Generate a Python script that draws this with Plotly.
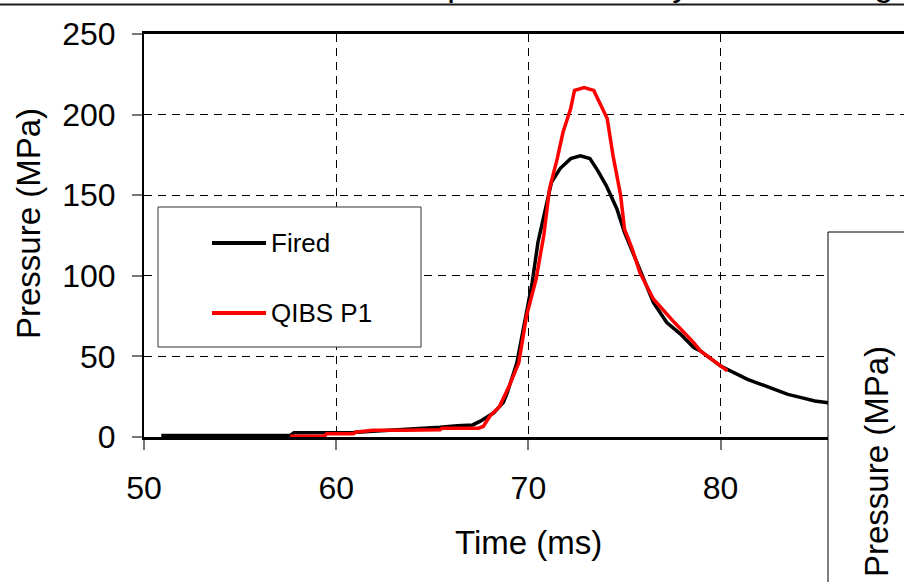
import plotly.graph_objects as go

# ---- data ----
series_names = ["Fired", "QIBS P1"]
series_colors = ["#000000", "#ff0000"]

fired_t = [50.9, 52, 54, 56, 57.6, 57.8, 59, 60.9, 61.9, 63, 64.5, 65.4, 66.3, 67.1, 67.5,
           67.8, 68.2, 68.35, 68.7, 68.9, 69.4, 69.8, 70.2, 70.5, 70.9, 71.2, 71.65, 72.2,
           72.7, 73.2, 73.6, 74.05, 74.6, 75.0, 75.5, 76.0, 76.5, 77.2, 77.9, 78.6, 78.95,
           80.0, 80.7, 81.4, 82.1, 82.8, 83.5, 84.2, 84.9, 85.6, 86.5, 87.5, 88.5, 89.5]
fired_p = [1.0, 1.0, 1.0, 1.0, 1.0, 2.6, 2.6, 2.8, 3.6, 4.2, 5.0, 6.0, 7.0, 7.5, 9.8,
           12, 15, 17, 21.5, 27.5, 46, 71, 96, 121, 143.6, 158, 166.5, 172.7,
           174.4, 172.7, 165.4, 156, 141.6, 127, 112.5, 98, 83.5, 71, 64, 55.5, 53.4,
           44, 40, 35.8, 32.7, 29.6, 26.4, 24.4, 22.3, 21.3, 20, 19, 18, 17]

qibs_t = [57.6, 59.4, 59.5, 60.9, 61.0, 61.9, 63.5, 65.4, 65.5, 67.4, 67.65, 68.0, 68.5,
          69.0, 69.5, 69.9, 70.4, 70.8, 71.1, 71.5, 71.8, 72.2, 72.4, 72.9, 73.4, 73.7,
          74.1, 74.4, 74.8, 75.0, 75.4, 75.8, 76.5, 77.6, 78.6, 78.95, 79.3, 80.0, 80.35]
qibs_p = [0.5, 0.5, 2.0, 2.0, 3.0, 4.2, 4.2, 4.5, 5.5, 5.5, 6.5, 13, 19,
          31.6, 46, 75, 98, 125, 154, 172.7, 189, 203.8, 215, 216.7, 215, 208,
          197.6, 174.7, 149.8, 129, 116.7, 102, 85.6, 71, 58.6, 53.4, 50.3, 44, 41]

x_ticks = [50, 60, 70, 80, 90]
y_ticks = [0, 50, 100, 150, 200, 250]
x_title = "Time (ms)"
y_title = "Pressure (MPa)"
title_text = "Chamber pressure history of each firing"

FONT = "Liberation Sans, Arial, sans-serif"

W, H = 904, 582
L, R, T, B = 144, 0, 34, 145
PW, PH = W - L - R, H - T - B


def px(xpix):
    return (xpix - L) / PW


def py(ypix):
    return (H - B - ypix) / PH


fig = go.Figure()
fig.add_trace(go.Scatter(x=fired_t, y=fired_p, mode="lines", name=series_names[0],
                         line=dict(color=series_colors[0], width=3.5), showlegend=False))
fig.add_trace(go.Scatter(x=qibs_t, y=qibs_p, mode="lines", name=series_names[1],
                         line=dict(color=series_colors[1], width=3.5), showlegend=False))

shapes = []
annotations = []

# manual legend box
shapes.append(dict(type="rect", xref="paper", yref="paper", x0=px(158), x1=px(421),
                   y0=py(347), y1=py(207), line=dict(color="#333333", width=1),
                   fillcolor="white", layer="above"))
for i, (nm, col, ypx) in enumerate(zip(series_names, series_colors, [243, 313])):
    shapes.append(dict(type="line", xref="paper", yref="paper", x0=px(212), x1=px(266),
                       y0=py(ypx), y1=py(ypx), line=dict(color=col, width=4), layer="above"))
    annotations.append(dict(text=nm, xref="paper", yref="paper", x=px(269), y=py(ypx),
                            xanchor="left", yanchor="middle", showarrow=False,
                            font=dict(family=FONT, size=26, color="black")))

# overlapping box at the right with its own axis title
shapes.append(dict(type="rect", xref="paper", yref="paper", x0=px(828), x1=px(920),
                   y0=py(600), y1=py(232), line=dict(color="black", width=1),
                   fillcolor="white", layer="above"))
annotations.append(dict(text=y_title, xref="paper", yref="paper", x=px(876), y=py(462),
                        xanchor="center", yanchor="middle", textangle=-90, showarrow=False,
                        font=dict(family=FONT, size=33, color="black")))

# top line and clipped title
shapes.append(dict(type="line", xref="paper", yref="paper", x0=px(-10), x1=px(920),
                   y0=py(4.5), y1=py(4.5), line=dict(color="#1a1a1a", width=2)))
annotations.append(dict(text=title_text, xref="paper", yref="paper", x=px(296),
                        y=py(5), xanchor="left", yanchor="bottom", showarrow=False,
                        font=dict(family=FONT, size=34, color="black")))

# axis titles
annotations.append(dict(text=x_title, xref="x", yref="paper", x=70, y=py(542),
                        xanchor="center", yanchor="middle", showarrow=False,
                        font=dict(family=FONT, size=33, color="black")))
annotations.append(dict(text=y_title, xref="paper", yref="paper", x=px(28), y=py(224),
                        xanchor="center", yanchor="middle", textangle=-90, showarrow=False,
                        font=dict(family=FONT, size=33, color="black")))

fig.update_layout(
    width=W, height=H,
    margin=dict(l=L, r=R, t=T, b=B, pad=0),
    paper_bgcolor="white", plot_bgcolor="white",
    showlegend=False,
    shapes=shapes, annotations=annotations,
    font=dict(family=FONT, color="black"),
)
fig.update_xaxes(range=[50, 50 + PW / 19.22], tickvals=x_ticks, ticktext=[str(v) for v in x_ticks],
                 showgrid=True, gridcolor="black", gridwidth=1, griddash="8px,6px",
                 showline=True, linecolor="black", linewidth=3, mirror=True,
                 ticks="outside", ticklen=10, tickwidth=1.5, tickcolor="#777777",
                 tickfont=dict(family=FONT, size=32, color="black"),
                 ticklabelstandoff=11, zeroline=False)
fig.update_yaxes(range=[0, 250], tickvals=y_ticks, ticktext=[str(v) for v in y_ticks],
                 showgrid=True, gridcolor="black", gridwidth=1, griddash="8px,6px",
                 showline=True, linecolor="black", linewidth=2, mirror=False,
                 ticks="outside", ticklen=10, tickwidth=1.5, tickcolor="#777777",
                 tickfont=dict(family=FONT, size=32, color="black"),
                 ticklabelstandoff=10, zeroline=False)

fig.write_html("out.html")
